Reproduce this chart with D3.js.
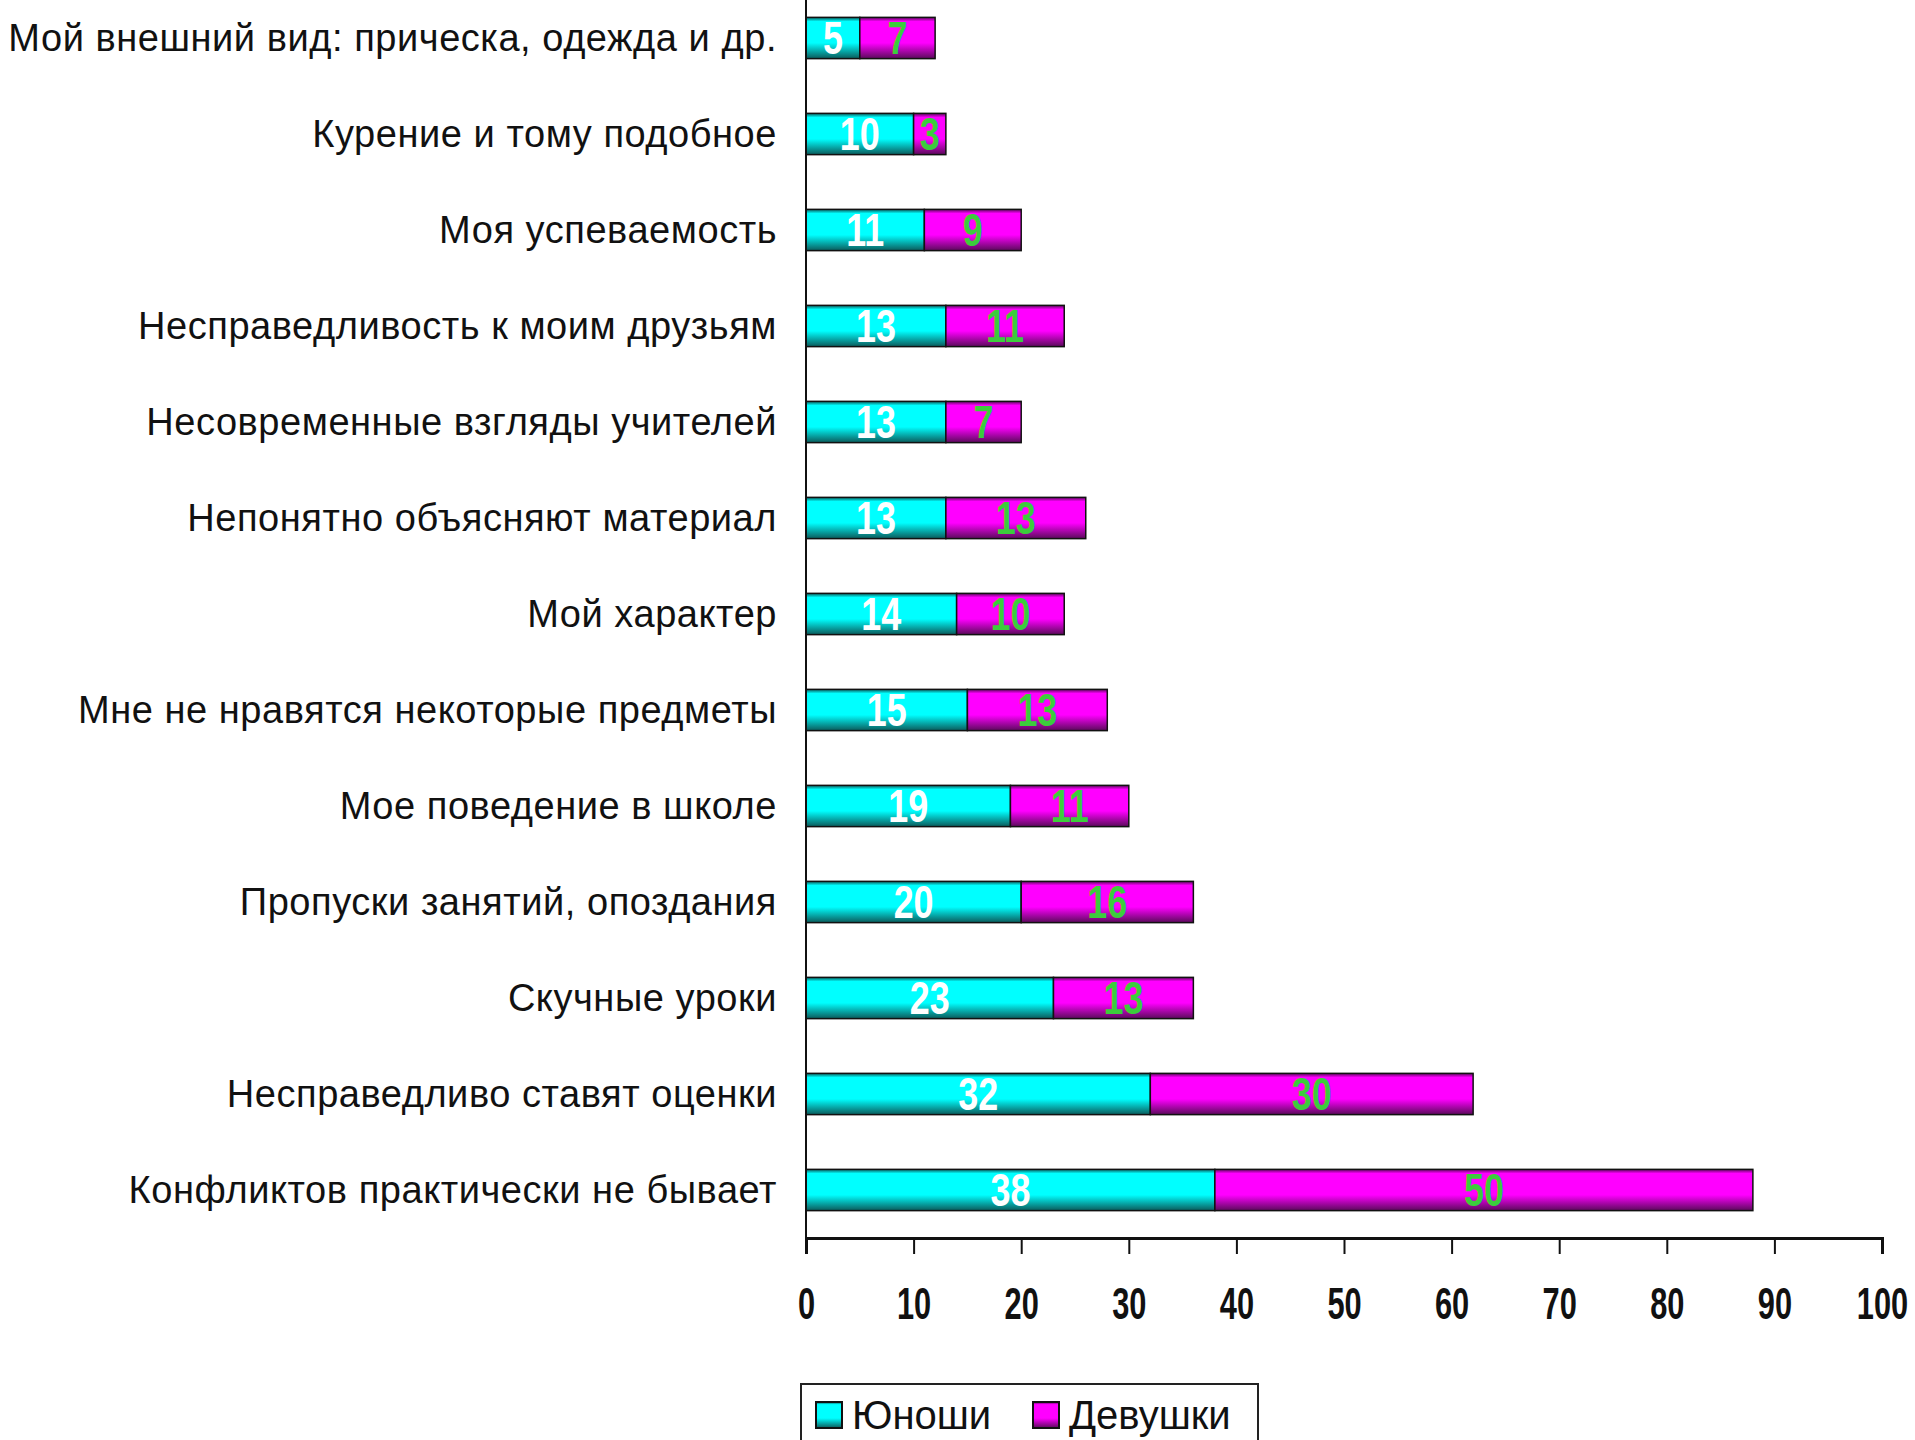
<!DOCTYPE html>
<html>
<head>
<meta charset="utf-8">
<script src="https://cdn.jsdelivr.net/npm/d3@7"></script>
<style>
  body { margin: 0; background: #fff; }
  svg { display: block; }
</style>
</head>
<body>
<svg id="chart" width="1915" height="1440"></svg>
<script>
// data, top to bottom as in the picture
const categories = [
    "Мой внешний вид: прическа, одежда и др.",
    "Курение и тому подобное",
    "Моя успеваемость",
    "Несправедливость к моим друзьям",
    "Несовременные взгляды учителей",
    "Непонятно объясняют материал",
    "Мой характер",
    "Мне не нравятся некоторые предметы",
    "Мое поведение в школе",
    "Пропуски занятий, опоздания",
    "Скучные уроки",
    "Несправедливо ставят оценки",
    "Конфликтов практически не бывает"
];
const boys = [5, 10, 11, 13, 13, 13, 14, 15, 19, 20, 23, 32, 38];
const girls = [7, 3, 9, 11, 7, 13, 10, 13, 11, 16, 13, 30, 50];
const seriesNames = ["Юноши", "Девушки"];
const xTicks = [0, 10, 20, 30, 40, 50, 60, 70, 80, 90, 100];

const svg = d3.select("#chart");
const width = 1915, height = 1440;

svg.append("rect").attr("width", width).attr("height", height).attr("fill", "#fff");

// plot area
const plotLeft = 806, plotRight = 1882, plotTop = -10, plotBottom = 1238;

const x = d3.scaleLinear().domain([0, 100]).range([plotLeft, plotRight]);
const y = d3.scaleBand().domain(categories).range([plotTop, plotBottom])
    .paddingInner(0.57).paddingOuter(0.285);

// bar gradients (Excel-like dark bottom edge)
const defs = svg.append("defs");
function makeGrad(id, light, dark) {
    const g = defs.append("linearGradient").attr("id", id)
        .attr("x1", 0).attr("y1", 0).attr("x2", 0).attr("y2", 1);
    g.append("stop").attr("offset", "0%").attr("stop-color", dark);
    g.append("stop").attr("offset", "10%").attr("stop-color", light);
    g.append("stop").attr("offset", "62%").attr("stop-color", light);
    g.append("stop").attr("offset", "100%").attr("stop-color", dark);
}
makeGrad("gBoys", "#00ffff", "#0b5a5a");
makeGrad("gGirls", "#ff00ff", "#5a0a5a");

const rows = categories.map((c, i) => ({ cat: c, boys: boys[i], girls: girls[i] }));

// boys segment
svg.selectAll("rect.boys")
    .data(rows)
    .enter()
    .append("rect")
    .attr("class", "boys")
    .attr("x", x(0))
    .attr("y", d => y(d.cat))
    .attr("width", d => x(d.boys) - x(0))
    .attr("height", y.bandwidth())
    .attr("fill", "url(#gBoys)")
    .attr("stroke", "#111")
    .attr("stroke-width", 1.5);

// girls segment
svg.selectAll("rect.girls")
    .data(rows)
    .enter()
    .append("rect")
    .attr("class", "girls")
    .attr("x", d => x(d.boys))
    .attr("y", d => y(d.cat))
    .attr("width", d => x(d.boys + d.girls) - x(d.boys))
    .attr("height", y.bandwidth())
    .attr("fill", "url(#gGirls)")
    .attr("stroke", "#111")
    .attr("stroke-width", 1.5);

// value labels, narrow bold
function valueLabel(cls, getX, getV, color) {
    svg.selectAll("text." + cls)
        .data(rows)
        .enter()
        .append("text")
        .attr("class", cls)
        .attr("transform", d => `translate(${getX(d)},${y(d.cat) + y.bandwidth() / 2}) scale(0.78,1)`)
        .attr("text-anchor", "middle")
        .attr("dominant-baseline", "central")
        .style("font-family", "'Liberation Sans', Arial, sans-serif")
        .style("font-weight", "bold")
        .style("font-size", "46px")
        .style("fill", color)
        .text(d => getV(d));
}
valueLabel("lb-boys", d => (x(0) + x(d.boys)) / 2, d => d.boys, "#ffffff");
valueLabel("lb-girls", d => (x(d.boys) + x(d.boys + d.girls)) / 2, d => d.girls, "#3ccc3c");

// y axis: line only, category labels on the left
svg.append("line")
    .attr("x1", plotLeft).attr("x2", plotLeft)
    .attr("y1", 0).attr("y2", plotBottom)
    .attr("stroke", "#111").attr("stroke-width", 2);

svg.selectAll("text.cat")
    .data(categories)
    .enter()
    .append("text")
    .attr("class", "cat")
    .attr("x", plotLeft - 29)
    .attr("y", d => y(d) + y.bandwidth() / 2)
    .attr("text-anchor", "end")
    .attr("dominant-baseline", "central")
    .style("font-family", "'Liberation Sans', Arial, sans-serif")
    .style("font-size", "38px")
    .style("letter-spacing", "0.55px")
    .style("fill", "#111")
    .text(d => d);

// x axis
const xAxis = svg.append("g")
    .attr("transform", `translate(0,${plotBottom})`)
    .call(d3.axisBottom(x).tickValues(xTicks).tickSize(16).tickPadding(10).tickFormat(d3.format("d")));

xAxis.select(".domain").attr("stroke", "#111").attr("stroke-width", 3);
xAxis.selectAll(".tick line").attr("stroke", "#111").attr("stroke-width", 2);
xAxis.selectAll(".tick text")
    .attr("y", 0)
    .attr("dy", 0)
    .attr("transform", "translate(0,66) scale(0.7,1)")
    .attr("dominant-baseline", "central")
    .style("font-family", "'Liberation Sans', Arial, sans-serif")
    .style("font-weight", "bold")
    .style("font-size", "44px")
    .style("fill", "#111");

// legend (bottom of it runs off the page, as in the original)
const legend = svg.append("g").attr("transform", "translate(801,1384)");
legend.append("rect")
    .attr("width", 457).attr("height", 80)
    .attr("fill", "#fff")
    .attr("stroke", "#222").attr("stroke-width", 2);

const legendX = [15, 232];
const legendFill = ["url(#gBoys)", "url(#gGirls)"];
seriesNames.forEach((name, i) => {
    legend.append("rect")
        .attr("x", legendX[i]).attr("y", 18)
        .attr("width", 26).attr("height", 26)
        .attr("fill", legendFill[i])
        .attr("stroke", "#111").attr("stroke-width", 2);
    legend.append("text")
        .attr("x", legendX[i] + 36).attr("y", 31)
        .attr("dominant-baseline", "central")
        .style("font-family", "'Liberation Sans', Arial, sans-serif")
        .style("font-size", "40px")
        .style("fill", "#111")
        .text(name);
});
</script>
</body>
</html>
